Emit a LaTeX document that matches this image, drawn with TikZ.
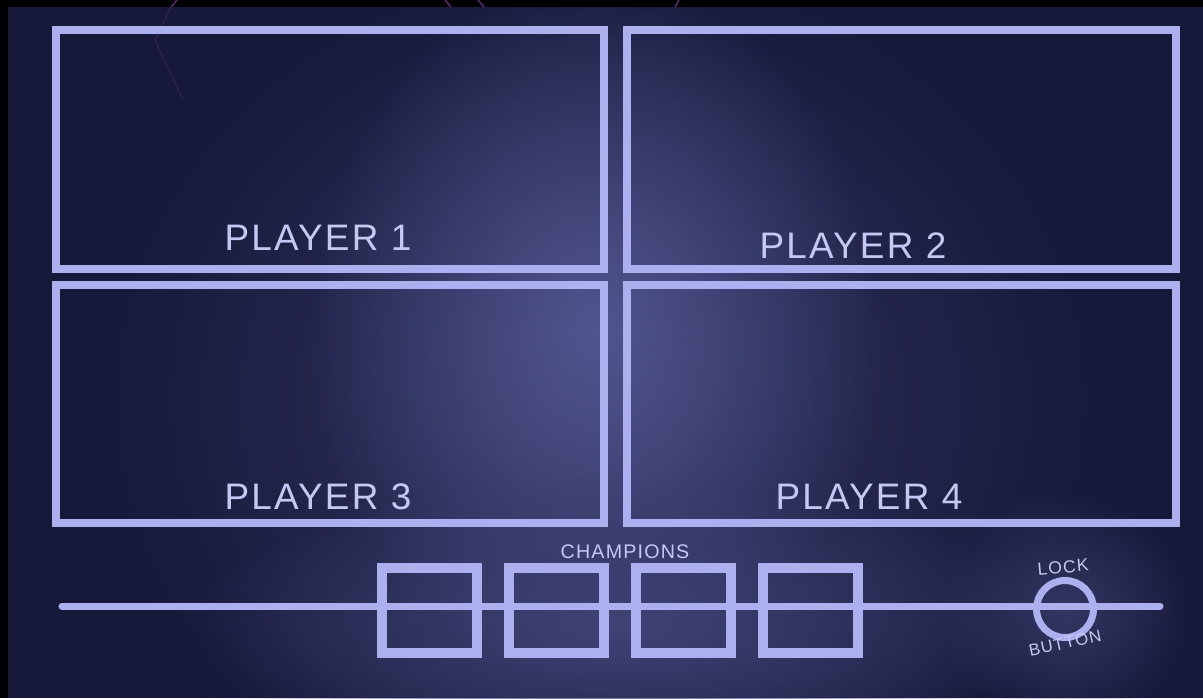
\documentclass[tikz,border=0pt]{standalone}
\usepackage{fontspec}
\setmainfont{Liberation Sans}
\newfontfamily\sketchfont[LetterSpace=6]{Liberation Sans}
\usetikzlibrary{positioning,fadings}
\definecolor{navy}{HTML}{17193A}
\definecolor{glow}{HTML}{50558E}
\definecolor{lavender}{HTML}{ADB0EF}
\definecolor{chalk}{HTML}{C6C8F4}
\definecolor{plum}{HTML}{5E2B72}
\tikzfading[name=softglow, inner color=transparent!0, outer color=transparent!100]

\begin{document}
\begin{tikzpicture}[x=0.02cm,y=-0.02cm]
	\tikzset{panel/.style={draw=lavender,line width=5pt}}
	\tikzset{slotbox/.style={draw=lavender,line width=5.5pt,minimum width=1.9cm,minimum height=1.7cm,inner sep=0pt,outer sep=0pt}}
	\tikzset{knob/.style={draw=lavender,line width=4pt,shape=circle,minimum size=1.14cm,inner sep=0pt,outer sep=0pt}}
	\tikzset{label/.style={text=chalk,font=\sketchfont\fontsize{21}{24}\selectfont,inner sep=0pt}}
	\tikzset{small/.style={text=chalk,font=\sketchfont\fontsize{10}{12}\selectfont,inner sep=0pt}}
	\tikzset{stray/.style={draw=plum,line width=0.8pt}}

	\useasboundingbox (0,0) rectangle (1203,698);

	% backdrop and glow
	\fill[navy] (0,0) rectangle (1203,698);
	\fill[glow!45!navy,path fading=softglow] (600,400) ellipse (520 and 460);
	\fill[glow,path fading=softglow] (595,330) ellipse (290 and 350);
	\fill[glow!70!navy,path fading=softglow] (620,625) ellipse (430 and 150);
	\fill[glow!50!navy,path fading=softglow] (1065,610) ellipse (130 and 120);
	\fill[black] (0,0) rectangle (1203,7);
	\fill[black] (0,0) rectangle (8,698);

	\draw[stray] (177,0) -- (171,7);
	\draw[stray,opacity=0.35] (171,7) -- (155,40) -- (183,100);
	\draw[stray] (445,0) -- (451,7);
	\draw[stray] (478,0) -- (484,7);
	\draw[stray] (679,0) -- (675,7);

	% player panels
	\draw[panel] (56,30) rectangle (604,269);
	\draw[panel] (627,30) rectangle (1176,269);
	\draw[panel] (56,285) rectangle (604,523);
	\draw[panel] (627,285) rectangle (1176,523);

	\node[label] (p1) at (318,238) {PLAYER 1};
	\node[label] (p2) at (853,246) {PLAYER 2};
	\node[label] (p3) at (318,497) {PLAYER 3};
	\node[label] (p4) at (869,497) {PLAYER 4};

	% champion slots and lock button
	\coordinate (railL) at (62,606);
	\coordinate (railR) at (1160,606);
	\draw[draw=lavender,line width=4pt,line cap=round] (railL) -- (railR);

	\node[slotbox] (c1) at (429.5,610.5) {};
	\node[slotbox] (c2) at (556.5,610.5) {};
	\node[slotbox] (c3) at (683.5,610.5) {};
	\node[slotbox] (c4) at (810.5,610.5) {};
	\node[small,font=\sketchfont\fontsize{11.2}{13}\selectfont] (champ) at (625,552) {CHAMPIONS};

	\node[knob] (lock) at (1065,609) {};
	\node[small,rotate=5] (locktxt) at (1063,567) {LOCK};
	\node[small,rotate=12,font=\sketchfont\fontsize{9.5}{12}\selectfont] (buttontxt) at (1065,643) {BUTTON};
\end{tikzpicture}
\end{document}
